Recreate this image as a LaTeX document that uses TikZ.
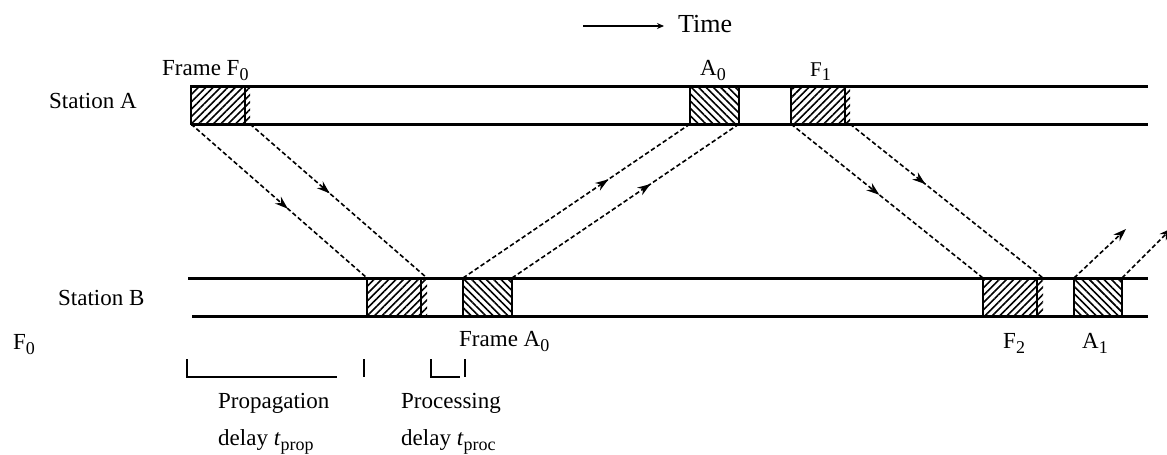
\documentclass[tikz,border=0pt]{standalone}
\usepackage{fontspec}
\setmainfont{Liberation Serif}
\usetikzlibrary{arrows.meta,patterns.meta,decorations.markings,calc}
\newcommand\lowsub[1]{\raisebox{-0.22em}{\fontsize{18}{18}\selectfont #1}}
\begin{document}
\begin{tikzpicture}[x=1pt,y=-1pt,
  lbl/.style={inner sep=0pt, anchor=base west, font=\fontsize{23}{27}\selectfont},
  smalllbl/.style={inner sep=0pt, anchor=base west, font=\fontsize{21}{25}\selectfont},
  bandline/.style={line width=3pt},
  fwdhatch/.style={pattern={Lines[angle=45,distance=5.2pt,line width=1.6pt]}},
  backhatch/.style={pattern={Lines[angle=-45,distance=5.2pt,line width=1.6pt]}},
  framebox/.style={draw, line width=2.6pt, inner sep=0pt, outer sep=0pt, minimum height=38pt, fwdhatch},
  ackbox/.style={draw, line width=2.6pt, inner sep=0pt, outer sep=0pt, minimum height=38pt, backhatch},
  sig/.style={line width=1.6pt, dash pattern=on 4.5pt off 2.6pt},
  midarrow/.style={postaction={decorate}, decoration={markings, mark=at position #1 with {\arrow{Stealth[length=13pt,width=9pt]}}}},
  bracketline/.style={line width=2.4pt},
]
\useasboundingbox (0,0) rectangle (1167,455);
\clip (0,0) rectangle (1167,455);

% time arrow
\node[inner sep=0pt, anchor=base west, font=\fontsize{26}{30}\selectfont] (time) at (678,32) {Time};
\coordinate (tstart) at (583,26);
\draw[line width=1.6pt, -{Stealth[length=7pt,width=6pt]}] (tstart) -- (664,26);

% station bands
\draw[bandline] (191,86) -- (1148,86);
\draw[bandline] (191,124) -- (1148,124);
\draw[bandline] (188,278) -- (1148,278);
\draw[bandline] (192,316) -- (1148,316);

% overflow hatch stubs
\path[fwdhatch] (245,88) rectangle (250,122);
\path[fwdhatch] (845,88) rectangle (850,122);
\path[fwdhatch] (421,280) rectangle (427,314);
\path[fwdhatch] (1037,280) rectangle (1043,314);

% boxes at station A
\node[framebox, minimum width=54pt] (f0a) at (218,105) {};
\node[ackbox, minimum width=49pt] (a0a) at (714.5,105) {};
\node[framebox, minimum width=54pt] (f1a) at (818,105) {};
% boxes at station B
\node[framebox, minimum width=54pt] (f0b) at (394,297) {};
\node[ackbox, minimum width=49pt] (a0b) at (487.5,297) {};
\node[framebox, minimum width=54pt] (f2b) at (1010,297) {};
\node[ackbox, minimum width=48pt] (a1b) at (1098,297) {};

\coordinate (f0aend) at (250,124);
\coordinate (f0bend) at (427,278);
\coordinate (f1aend) at (850,124);
\coordinate (f2bend) at (1043,278);
\coordinate (a1tip) at (1126,229);
\coordinate (a1tip2) at (1172,228);

% signals
\draw[sig, midarrow=0.55] (f0a.south west) -- (f0b.north west);
\draw[sig, midarrow=0.45] (f0aend) -- (f0bend);
\draw[sig, midarrow=0.64] (a0b.north west) -- (a0a.south west);
\draw[sig, midarrow=0.61] (a0b.north east) -- (a0a.south east);
\draw[sig, midarrow=0.46] (f1a.south west) -- (f2b.north west);
\draw[sig, midarrow=0.39] (f1aend) -- (f2bend);
\draw[sig, -{Stealth[length=13pt,width=9pt]}] (a1b.north west) -- (a1tip);
\draw[sig, -{Stealth[length=13pt,width=9pt]}] (a1b.north east) -- (a1tip2);

% labels
\node[lbl] (lfa) at (162,75) {Frame F\lowsub{0}};
\node[lbl] (sa) at (49,108) {Station A};
\node[lbl] (la0) at (700,75) {A\lowsub{0}};
\node[smalllbl] (lf1) at (810,76) {F\lowsub{1}};
\node[lbl] (sb) at (58,305) {Station B};
\node[lbl] (lf0) at (13,349) {F\lowsub{0}};
\node[lbl] (lfa0) at (459,346) {Frame A\lowsub{0}};
\node[lbl] (lf2) at (1003,348) {F\lowsub{2}};
\node[lbl] (la1) at (1082,348) {A\lowsub{1}};
\node[lbl] (prop1) at (218,408) {Propagation};
\node[lbl] (prop2) at (218,445) {delay \textit{t}\lowsub{prop}};
\node[lbl] (proc1) at (401,408) {Processing};
\node[lbl] (proc2) at (401,445) {delay \textit{t}\lowsub{proc}};

% brackets
\draw[bracketline] (187,359) -- (187,377) -- (337,377);
\draw[bracketline] (364,359) -- (364,377);
\draw[bracketline] (431,359) -- (431,377) -- (460,377);
\draw[bracketline] (465,359) -- (465,377);
\end{tikzpicture}
\end{document}
